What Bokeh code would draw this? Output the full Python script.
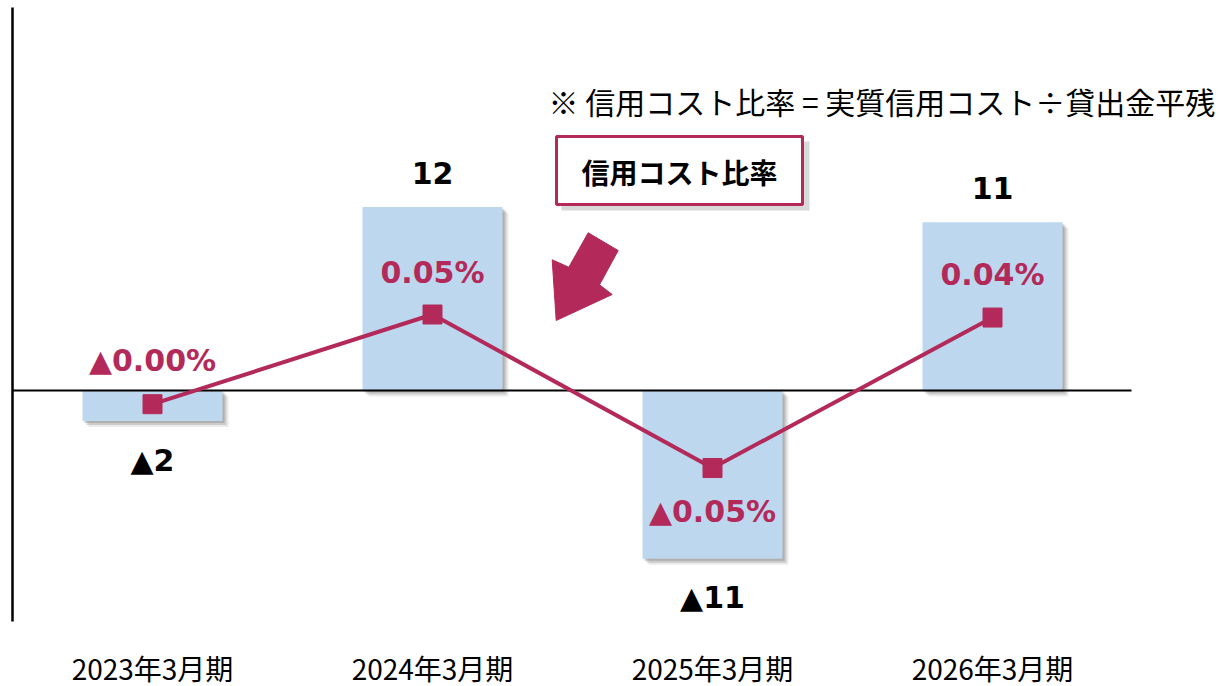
import math
from bokeh.plotting import figure
from bokeh.models import Range1d, ColumnDataSource
from bokeh.core.properties import value
from bokeh.embed import file_html
from bokeh.resources import INLINE

# ---------------- data ----------------
categories = ["2023年3月期", "2024年3月期", "2025年3月期", "2026年3月期"]
credit_cost = [-2, 12, -11, 11]                     # 実質信用コスト (億円)
cost_ratio = [-0.009, 0.050, -0.051, 0.048]          # 信用コスト比率 (%)
legend_label = "信用コスト比率"
note_text = "※ 信用コスト比率 = 実質信用コスト÷貸出金平残"

# ---------------- style / layout ----------------
W, H = 1222, 686
BAR_COLOR = "#BDD7EE"
LINE_COLOR = "#B32A5A"
JP = value("Noto Sans CJK JP")
NUM = value("DejaVu Sans")
PX_PER_CAT = 280.0      # horizontal pixels per category
PX_PER_UNIT = 15.3      # pixels per 億円
PX_PER_PCT = 1520.0     # pixels per %
X0_PX = 152.0           # x of first category
ZERO_PX = 390.0         # y of zero line

def fx(px):  # px -> x data
    return (px - X0_PX) / PX_PER_CAT

def fy(py):  # px -> y data
    return (ZERO_PX - py) / PX_PER_UNIT

p = figure(width=W, height=H, output_backend="svg", toolbar_location=None,
           x_range=Range1d(fx(0), fx(W)), y_range=Range1d(fy(H), fy(0)),
           x_axis_location=None, y_axis_location=None, min_border=0,
           outline_line_color=None, background_fill_color="white")
p.xgrid.visible = False
p.ygrid.visible = False
p.extra_y_ranges = {"ratio": Range1d(-(H - ZERO_PX) / PX_PER_PCT, ZERO_PX / PX_PER_PCT)}

idx = list(range(len(categories)))

def fmt_int(v):
    return ("▲" if v < 0 else "") + str(abs(v))

def fmt_pct(v):
    t = math.floor(round(abs(v) * 100, 6)) / 100
    return ("▲" if v < 0 else "") + f"{t:.2f}%"

# bar shadows
for off, a in [(2, 0.35), (4, 0.28), (6, 0.15)]:
    dx = off / PX_PER_CAT
    dy = off / PX_PER_UNIT
    src = ColumnDataSource(dict(x=[i + dx for i in idx],
                                top=[max(v, 0) - dy for v in credit_cost],
                                bottom=[min(v, 0) - dy for v in credit_cost]))
    p.vbar(x="x", top="top", bottom="bottom", width=0.5, source=src,
           fill_color="#7a7a7a", fill_alpha=a, line_color=None)

bar_src = ColumnDataSource(dict(x=idx, top=credit_cost, bottom=[0] * 4))
p.vbar(x="x", top="top", bottom="bottom", width=0.5, source=bar_src,
       fill_color=BAR_COLOR, line_color=None)

# axis lines
p.segment(x0=[fx(12)], y0=[fy(7)], x1=[fx(12)], y1=[fy(621)], line_color="black", line_width=2.5)
p.segment(x0=[fx(12)], y0=[0], x1=[fx(1131)], y1=[0], line_color="black", line_width=2)

# ratio line
line_src = ColumnDataSource(dict(x=idx, y=cost_ratio))
p.line(x="x", y="y", source=line_src, y_range_name="ratio", line_color=LINE_COLOR, line_width=4)
p.scatter(x="x", y="y", source=line_src, y_range_name="ratio", marker="square", size=19,
          fill_color=LINE_COLOR, line_color=LINE_COLOR)

# bar value labels
bar_lbl = ColumnDataSource(dict(x=idx, y=credit_cost, t=[fmt_int(v) for v in credit_cost],
                                off=[-34 if v >= 0 else 39 for v in credit_cost]))
p.text(x="x", y="y", text="t", y_offset="off", source=bar_lbl, text_font=NUM,
       text_font_style="bold", text_font_size="30px", text_color="black",
       text_align="center", text_baseline="middle")

# ratio labels
ratio_pos = [-44, -42, 43, -43]
ratio_lbl = ColumnDataSource(dict(x=idx, y=cost_ratio, t=[fmt_pct(v) for v in cost_ratio],
                                  off=ratio_pos))
p.text(x="x", y="y", text="t", y_offset="off", source=ratio_lbl, y_range_name="ratio",
       text_font=NUM, text_font_style="bold", text_font_size="30px", text_color=LINE_COLOR,
       text_align="center", text_baseline="middle")

# category labels
p.text(x=idx, y=[fy(667)] * 4, text=categories, text_font=JP, text_font_size="28px",
       text_color="black", text_align="center", text_baseline="middle")

# note
p.text(x=[fx(548)], y=[fy(100)], text=[note_text], text_font=JP, text_font_size="30px",
       text_color="black", text_align="left", text_baseline="middle")

# callout box with shadow
p.quad(left=[fx(561)], right=[fx(809)], top=[fy(141)], bottom=[fy(210)],
       fill_color="#C0C0C0", fill_alpha=0.6, line_color=None)
p.quad(left=[fx(556)], right=[fx(802)], top=[fy(136)], bottom=[fy(204)],
       fill_color="white", line_color=LINE_COLOR, line_width=3)
p.text(x=[fx(679)], y=[fy(171)], text=[legend_label], text_font=JP, text_font_style="bold",
       text_font_size="28px", text_color="black", text_align="center", text_baseline="middle")

# arrow
arrow_px = [(555.7, 320), (551.7, 259.3), (568.3, 266.7), (587.7, 232.3),
            (617.7, 250), (599, 284.3), (611.7, 294)]
p.patch(x=[fx(a) for a, b in arrow_px], y=[fy(b) for a, b in arrow_px],
        fill_color=LINE_COLOR, line_color=LINE_COLOR)

open("out.html", "w").write(file_html(p, INLINE))
